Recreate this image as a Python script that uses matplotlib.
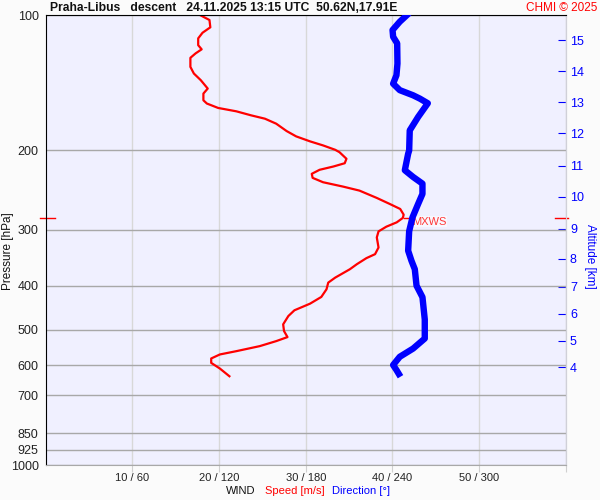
import numpy as np
import matplotlib as mpl
import matplotlib.pyplot as plt
import matplotlib.transforms as mtransforms
plt.rc('font', family=['Liberation Sans', 'DejaVu Sans'])
mpl.rcParams.update({'font.size': 9})

# wind speed profile (red)
spd_p = [100, 102.6, 106.5, 109.5, 112.7, 116.7, 119.2, 121.7, 124.5, 130.4,
         134.9, 139.6, 145.7, 149.5, 154.7, 157.3, 160.9, 163.7, 167.1, 170.0,
         174.4, 181.1, 186.1, 190.9, 194.9, 199.3, 201.8, 208.7, 213.5, 217.1,
         220.8, 225.4, 230.1, 235.3, 240.6, 245.6, 255.0, 263.0, 269.8, 277.8,
         282.5, 288.9, 295.4, 302.6, 312.1, 328.6, 340.0, 347.0, 357.9, 367.2,
         383.4, 393.3, 406.9, 423.2, 438.0, 453.1, 466.6, 486.9, 503.9, 519.7,
         530.5, 544.3, 558.5, 568.0, 579.8, 593.0, 610.4, 635.0]
spd = [17.8, 18.9, 19.0, 18.1, 17.6, 17.6, 18.0, 17.3, 16.7, 16.7,
       17.1, 17.9, 18.7, 18.2, 18.2, 18.6, 19.9, 22.0, 23.7, 25.3,
       26.6, 27.8, 28.9, 30.5, 32.0, 33.4, 33.9, 34.7, 34.5, 33.2,
       31.6, 30.7, 30.8, 32.0, 34.3, 36.2, 38.2, 39.7, 40.9, 41.3,
       41.2, 40.5, 39.3, 38.4, 38.2, 38.4, 38.0, 37.0, 35.9, 35.1,
       33.4, 32.6, 32.4, 31.8, 30.5, 28.7, 28.0, 27.4, 27.5, 27.9,
       26.6, 24.7, 22.0, 20.1, 19.1, 19.1, 20.1, 21.2]

# wind direction profile (blue)
dir_p = [99.0, 103.5, 108.0, 111.8, 115.6, 128.2, 136.1, 142.1, 146.9, 150.8,
         153.4, 157.1, 168.5, 180.5, 200.0, 203.4, 221.3, 229.0, 237.0, 249.8,
         263.0, 281.7, 302.3, 334.0, 351.7, 367.2, 399.5, 423.7, 474.9, 523.5,
         551.2, 574.8, 599.5, 615.0, 636.5]
wdir = [251.6, 245.1, 240.1, 240.5, 243.3, 243.5, 242.8, 240.5, 245.1, 254.3,
        259.0, 264.5, 257.8, 252.0, 251.6, 250.9, 248.6, 254.3, 260.8, 260.8,
        257.8, 253.9, 251.6, 250.9, 253.2, 255.5, 256.7, 260.8, 262.4, 262.4,
        254.3, 245.1, 240.5, 242.8, 245.6]

p_levels = [100, 200, 300, 400, 500, 600, 700, 850, 925, 1000]
x_ticks = [10, 20, 30, 40, 50, 60]
x_labels = ['10 / 60', '20 / 120', '30 / 180', '40 / 240', '50 / 300', '']
alt_km = [4, 5, 6, 7, 8, 9, 10, 11, 12, 13, 14, 15]
alt_p = [606.1, 530.2, 461.7, 402.0, 348.2, 298.5, 253.3, 216.0, 183.3, 156.3, 133.3, 113.7]
mxws_p = 282.5
mxws_spd = 41.3

fig = plt.figure(figsize=(6, 5), dpi=100, facecolor='#fbfbfb')
ax = fig.add_axes([0.076, 0.07, 0.867, 0.9])
ax.set_facecolor('#f0f0ff')
ax.set_yscale('log')
ax.set_ylim(1000, 100)
ax.set_xlim(0, 60)
ax.set_yticks(p_levels)
ax.set_yticklabels([str(v) for v in p_levels])
ax.yaxis.set_minor_locator(mpl.ticker.NullLocator())
ax.set_xticks(x_ticks)
ax.set_xticklabels(x_labels, fontsize=8)
ax.tick_params(axis='y', length=0, pad=5, colors='#222222')
ax.tick_params(axis='x', length=5, color='#d0d0d0', pad=1, labelcolor='#222222')
ax.grid(axis='x', color='#d8d8d8', lw=1)
ax.grid(axis='y', color='#a8a8a8', lw=1)
ax.set_axisbelow(True)
ax.spines['top'].set_color('black')
ax.spines['left'].set_color('black')
ax.spines['bottom'].set_color('#a8a8a8')
ax.spines['right'].set_color('#d0d0d8')

ax.plot(spd, spd_p, color='red', lw=1.6)

# MXWS marks
trans = mtransforms.blended_transform_factory(ax.transAxes, ax.transData)
ax.plot([-0.01, 0.018], [mxws_p, mxws_p], color='red', lw=1, transform=trans, clip_on=False)
ax.plot([0.98, 1.004], [mxws_p, mxws_p], color='red', lw=1, transform=trans, clip_on=False)
ax.plot([mxws_spd, mxws_spd + 0.8], [mxws_p, mxws_p], color='red', lw=1)
ax.text(mxws_spd + 1.0, mxws_p * 1.02, 'MXWS', color='#ff3838', fontsize=8, va='center',
        bbox=dict(facecolor='white', edgecolor='none', alpha=0.6, pad=0.5), zorder=5)

ax2 = ax.twiny()
ax2.set_xlim(0, 360)
ax2.plot(wdir, dir_p, color='blue', lw=4.6, solid_capstyle='butt')
ax2.set_xticks([])
for s in ax2.spines.values():
    s.set_visible(False)
ax2.set_ylim(1000, 100)

sec = ax.secondary_yaxis('right')
sec.set_yticks(alt_p)
sec.set_yticklabels([str(v) for v in alt_km])
sec.yaxis.set_minor_locator(mpl.ticker.NullLocator())
sec.tick_params(direction='in', length=6, colors='blue', pad=3)
sec.spines['right'].set_color('#d0d0d8')

fig.text(0.083, 0.984, 'Praha-Libus   descent   24.11.2025 13:15 UTC  50.62N,17.91E',
         fontweight='bold', fontsize=8.7, va='center', ha='left', color='#111111')
fig.text(0.995, 0.984, 'CHMI \u00a9 2025', color='red', fontsize=8.5, va='center', ha='right')
fig.text(0.014, 0.497, 'Pressure [hPa]', rotation=90, va='center', ha='center', color='#111111',
         fontsize=8.5)
fig.text(0.983, 0.488, 'Altitude [km]', rotation=-90, va='center', ha='center', color='blue',
         fontsize=8.5)
fig.text(0.376, 0.018, 'WIND', va='center', ha='left', color='#111111', fontsize=8)
fig.text(0.441, 0.018, 'Speed [m/s]', va='center', ha='left', color='red', fontsize=8)
fig.text(0.553, 0.018, 'Direction [\u00b0]', va='center', ha='left', color='blue', fontsize=8)

plt.savefig('out.png', dpi=100, facecolor=fig.get_facecolor())
